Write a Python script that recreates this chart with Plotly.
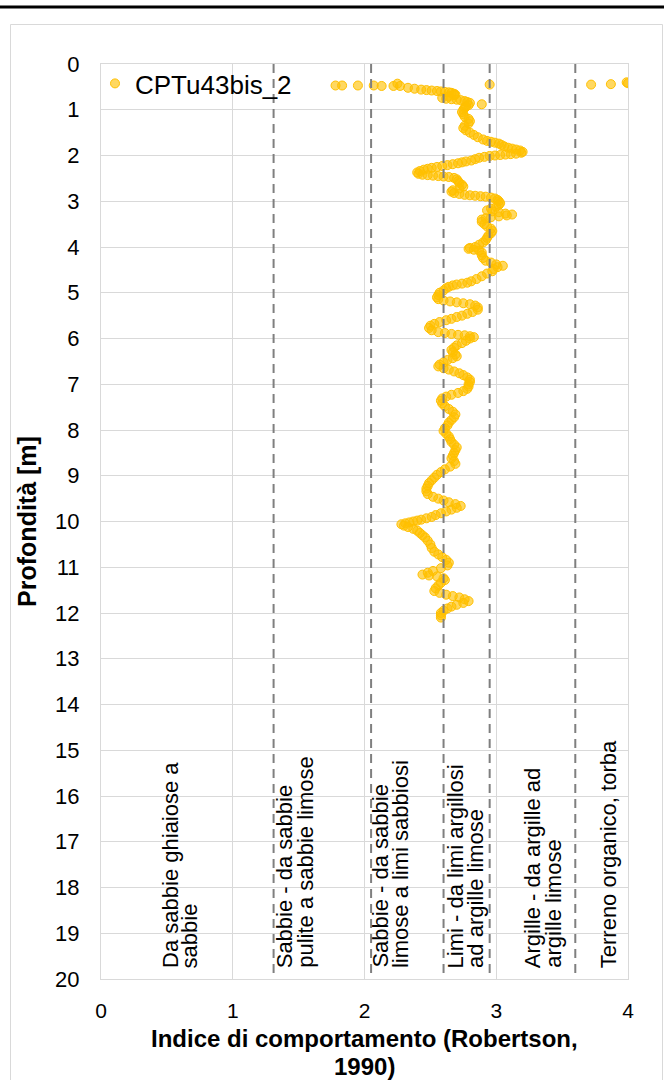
import plotly.graph_objects as go

# ---------------- data ----------------
series_name = "CPTu43bis_2"

depth = [
    0.47, 0.47, 0.47, 0.47, 0.48, 0.48, 0.43, 0.48, 0.45, 0.45, 0.44, 0.40, 0.42,
    0.52, 0.54, 0.56, 0.57, 0.58, 0.59, 0.60, 0.61, 0.62, 0.63, 0.65, 0.67,
    0.68, 0.71, 0.74, 0.76, 0.77, 0.78, 0.79, 0.81, 0.83, 0.85, 0.88, 0.90,
    0.93, 0.96, 1.00, 1.05, 1.10, 1.15, 1.20, 1.25, 1.30, 1.35, 1.40, 1.45,
    1.50, 1.55, 1.60, 1.65, 1.68, 1.70, 1.72, 1.74, 1.77, 1.80, 1.83, 1.85,
    1.87, 1.89, 1.92, 1.94, 1.96, 1.97, 1.98, 1.99, 2.00, 2.01, 2.03, 2.05,
    2.08, 2.11, 2.13, 2.15, 2.17, 2.19, 2.21, 2.23, 2.25, 2.27, 2.29, 2.31,
    2.34, 2.37, 2.40, 2.42, 2.43, 2.44, 2.45, 2.46, 2.47, 2.49, 2.52, 2.56,
    2.60, 2.64, 2.68, 2.72, 2.76, 2.79, 2.82, 2.84, 2.86, 2.87, 2.88, 2.89,
    2.90, 2.92, 2.94, 2.97, 3.00, 3.04, 3.08, 3.12, 3.16, 3.20, 3.22, 3.24,
    3.27, 3.29, 3.31, 3.33, 3.35, 3.37, 3.40, 3.45, 3.50, 3.55, 3.60, 3.65,
    3.70, 3.75, 3.80, 3.85, 3.90, 3.95, 4.00, 4.02, 4.04, 4.06, 4.08, 4.12,
    4.18, 4.24, 4.30, 4.34, 4.38, 4.41, 4.44, 4.48, 4.53, 4.58, 4.64, 4.70,
    4.75, 4.78, 4.80, 4.82, 4.84, 4.87, 4.90, 4.95, 5.00, 5.05, 5.10, 5.14,
    5.17, 5.19, 5.21, 5.23, 5.25, 5.28, 5.32, 5.37, 5.42, 5.46, 5.50, 5.53,
    5.57, 5.60, 5.64, 5.68, 5.72, 5.77, 5.82, 5.86, 5.88, 5.90, 5.92, 5.93,
    5.95, 5.97, 6.00, 6.05, 6.10, 6.15, 6.20, 6.25, 6.30, 6.35, 6.39, 6.43,
    6.47, 6.52, 6.57, 6.61, 6.65, 6.68, 6.72, 6.76, 6.80, 6.85, 6.90, 6.95,
    7.00, 7.05, 7.10, 7.15, 7.19, 7.23, 7.27, 7.31, 7.36, 7.42, 7.48, 7.54,
    7.60, 7.66, 7.72, 7.78, 7.84, 7.90, 7.96, 8.02, 8.08, 8.14, 8.20, 8.26,
    8.32, 8.38, 8.44, 8.50, 8.56, 8.62, 8.68, 8.74, 8.80, 8.86, 8.92, 8.98,
    9.04, 9.10, 9.16, 9.22, 9.28, 9.34, 9.40, 9.46, 9.50, 9.54, 9.58, 9.62,
    9.66, 9.70, 9.74, 9.78, 9.82, 9.86, 9.90, 9.93, 9.96, 9.98, 10.00, 10.02,
    10.04, 10.06, 10.09, 10.12, 10.16, 10.20, 10.25, 10.30, 10.35, 10.42, 10.50, 10.58,
    10.66, 10.72, 10.78, 10.84, 10.90, 10.96, 11.02, 11.08, 11.12, 11.16, 11.18, 11.20,
    11.24, 11.28, 11.34, 11.40, 11.46, 11.52, 11.56, 11.60, 11.63, 11.66, 11.70, 11.74,
    11.78, 11.82, 11.86, 11.90, 11.95, 12.00, 12.05, 12.10,
]

ic = [
    1.78, 1.83, 1.95, 2.07, 2.13, 2.22, 2.25, 2.27, 2.95, 3.72, 3.87, 3.99, 4.00,
    2.33, 2.38, 2.43, 2.47, 2.51, 2.55, 2.58, 2.61, 2.64, 2.66, 2.68, 2.69,
    2.68, 2.64, 2.59, 2.62, 2.66, 2.70, 2.73, 2.76, 2.78, 2.80, 2.89, 2.79,
    2.77, 2.76, 2.75, 2.74, 2.75, 2.76, 2.79, 2.80, 2.79, 2.76, 2.75, 2.77,
    2.80, 2.83, 2.86, 2.90, 2.93, 2.96, 2.99, 3.02, 3.04, 3.06, 3.09, 3.12,
    3.15, 3.18, 3.20, 3.19, 3.15, 3.11, 3.07, 3.03, 2.99, 2.95, 2.91, 2.87,
    2.84, 2.81, 2.77, 2.74, 2.71, 2.67, 2.63, 2.59, 2.55, 2.51, 2.48, 2.45,
    2.42, 2.40, 2.41, 2.44, 2.48, 2.52, 2.56, 2.60, 2.64, 2.68, 2.70, 2.71,
    2.72, 2.74, 2.75, 2.72, 2.67, 2.66, 2.68, 2.72, 2.76, 2.80, 2.84, 2.88,
    2.92, 2.96, 2.99, 3.01, 3.02, 3.03, 3.02, 3.00, 2.96, 2.93, 2.97, 3.02,
    3.07, 3.12, 3.08, 3.02, 2.96, 2.92, 2.89, 2.89, 2.91, 2.93, 2.96, 2.97,
    2.96, 2.94, 2.93, 2.92, 2.90, 2.87, 2.84, 2.80, 2.79, 2.83, 2.87, 2.89,
    2.89, 2.90, 2.92, 2.96, 3.00, 3.05, 3.01, 2.98, 2.97, 2.93, 2.89, 2.85,
    2.81, 2.78, 2.74, 2.70, 2.67, 2.64, 2.62, 2.60, 2.57, 2.56, 2.55, 2.56,
    2.60, 2.65, 2.70, 2.75, 2.80, 2.84, 2.86, 2.86, 2.82, 2.78, 2.74, 2.70,
    2.66, 2.62, 2.57, 2.53, 2.50, 2.49, 2.51, 2.56, 2.61, 2.66, 2.71, 2.76,
    2.80, 2.83, 2.80, 2.77, 2.74, 2.70, 2.68, 2.66, 2.67, 2.69, 2.70, 2.67,
    2.63, 2.60, 2.57, 2.56, 2.60, 2.64, 2.68, 2.72, 2.75, 2.78, 2.80, 2.80,
    2.79, 2.79, 2.78, 2.75, 2.71, 2.66, 2.62, 2.59, 2.58, 2.59, 2.61, 2.64,
    2.67, 2.69, 2.68, 2.66, 2.64, 2.63, 2.61, 2.60, 2.62, 2.64, 2.65, 2.66,
    2.68, 2.70, 2.69, 2.68, 2.67, 2.66, 2.68, 2.69, 2.65, 2.61, 2.58, 2.55,
    2.53, 2.51, 2.49, 2.48, 2.47, 2.47, 2.48, 2.52, 2.56, 2.60, 2.64, 2.69,
    2.73, 2.70, 2.66, 2.62, 2.58, 2.54, 2.51, 2.47, 2.43, 2.40, 2.37, 2.34,
    2.31, 2.28, 2.30, 2.33, 2.37, 2.40, 2.42, 2.44, 2.46, 2.48, 2.50, 2.51,
    2.53, 2.56, 2.59, 2.62, 2.64, 2.63, 2.58, 2.52, 2.48, 2.44, 2.49, 2.55,
    2.60, 2.61, 2.58, 2.56, 2.54, 2.53, 2.57, 2.62, 2.67, 2.72, 2.76, 2.79,
    2.75, 2.70, 2.66, 2.63, 2.60, 2.58, 2.58, 2.58,
]

# Robertson (1990) Ic zone boundaries
ic_boundaries = [1.31, 2.05, 2.60, 2.95, 3.60]

# zone descriptions (each entry: list of text lines)
zone_labels = [
    ["Da sabbie ghiaiose a", "sabbie"],
    ["Sabbie - da sabbie", "pulite a sabbie limose"],
    ["Sabbie - da sabbie", "limose a limi sabbiosi"],
    ["Limi - da limi argillosi", "ad argille limose"],
    ["Argille - da argille ad", "argille limose"],
    ["Terreno organico, torba"],
]

x_title_lines = ["Indice di comportamento (Robertson,", "1990)"]
y_title = "Profondità [m]"

# ---------------- layout constants ----------------
W, H = 664, 1080
ML, MR, MT, MB = 101, 36, 64, 101
PW, PH = W - ML - MR, H - MT - MB
FONT = "Liberation Sans, Arial, sans-serif"

# x position (first text line) of each zone label and line gap in pixels
label_x = [0.523, 1.395, 2.118, 2.69, 3.277, 3.85]
line_gap_px = 20


def px_x(p):
    return (p - ML) / PW


def px_y(p):
    return (H - MB - p) / PH


fig = go.Figure()
fig.add_trace(go.Scatter(
    x=ic, y=depth, mode="markers", name=series_name,
    marker=dict(size=9, color="rgba(255,192,0,0.62)",
                line=dict(color="#FFC000", width=1)),
))

shapes = []
for b in ic_boundaries:
    shapes.append(dict(type="line", xref="x", yref="y", x0=b, x1=b, y0=0, y1=20,
                       line=dict(color="#7f7f7f", width=2, dash="9px,6px"), layer="above"))

# outer chart frame and top black rule
shapes.append(dict(type="rect", xref="paper", yref="paper",
                   x0=px_x(10.5), x1=px_x(662.5), y0=px_y(1085), y1=px_y(24.5),
                   line=dict(color="#d9d9d9", width=1), layer="below"))
shapes.append(dict(type="line", xref="paper", yref="paper",
                   x0=px_x(0), x1=px_x(W), y0=px_y(7), y1=px_y(7),
                   line=dict(color="#000000", width=3)))

annotations = []
for lines, lx in zip(zone_labels, label_x):
    for i, t in enumerate(lines):
        annotations.append(dict(
            x=lx, y=20, xref="x", yref="y", text=t, showarrow=False,
            textangle=-90, xanchor="center", yanchor="bottom", align="left",
            xshift=i * line_gap_px, yshift=9,
            font=dict(family=FONT, size=22, color="#000000"),
        ))

# x-axis title (two lines, as in the original)
for t, yc in zip(x_title_lines, [1038, 1066]):
    annotations.append(dict(
        x=0.5, y=px_y(yc), xref="paper", yref="paper", text="<b>" + t + "</b>",
        showarrow=False, xanchor="center", yanchor="middle",
        font=dict(family=FONT, size=24, color="#000000"),
    ))

fig.update_layout(
    width=W, height=H,
    margin=dict(l=ML, r=MR, t=MT, b=MB, autoexpand=False),
    paper_bgcolor="white", plot_bgcolor="white",
    font=dict(family=FONT, size=22, color="#000000"),
    showlegend=True,
    legend=dict(x=px_x(95), y=1.0 + 4 / PH, xanchor="left", yanchor="top",
                bgcolor="rgba(0,0,0,0)", font=dict(size=26), itemwidth=30),
    shapes=shapes, annotations=annotations,
)
fig.update_xaxes(
    range=[0, 4], tick0=0, dtick=1, showgrid=True, gridcolor="#d9d9d9", gridwidth=1,
    zeroline=False, showline=True, linecolor="#d9d9d9", mirror=True,
    ticks="", tickfont=dict(size=21), ticklabelstandoff=13,
)
fig.update_yaxes(
    range=[20, 0], tick0=0, dtick=1, showgrid=True, gridcolor="#d9d9d9", gridwidth=1,
    zeroline=False, showline=True, linecolor="#d9d9d9", mirror=True,
    ticks="", tickfont=dict(size=22), ticklabelstandoff=16,
    title=dict(text="<b>" + y_title + "</b>", font=dict(size=25), standoff=11),
)

fig.write_html(
    "out.html",
    config={"displayModeBar": False},
    post_script="document.body.style.margin='0';document.body.style.overflow='hidden';",
)
